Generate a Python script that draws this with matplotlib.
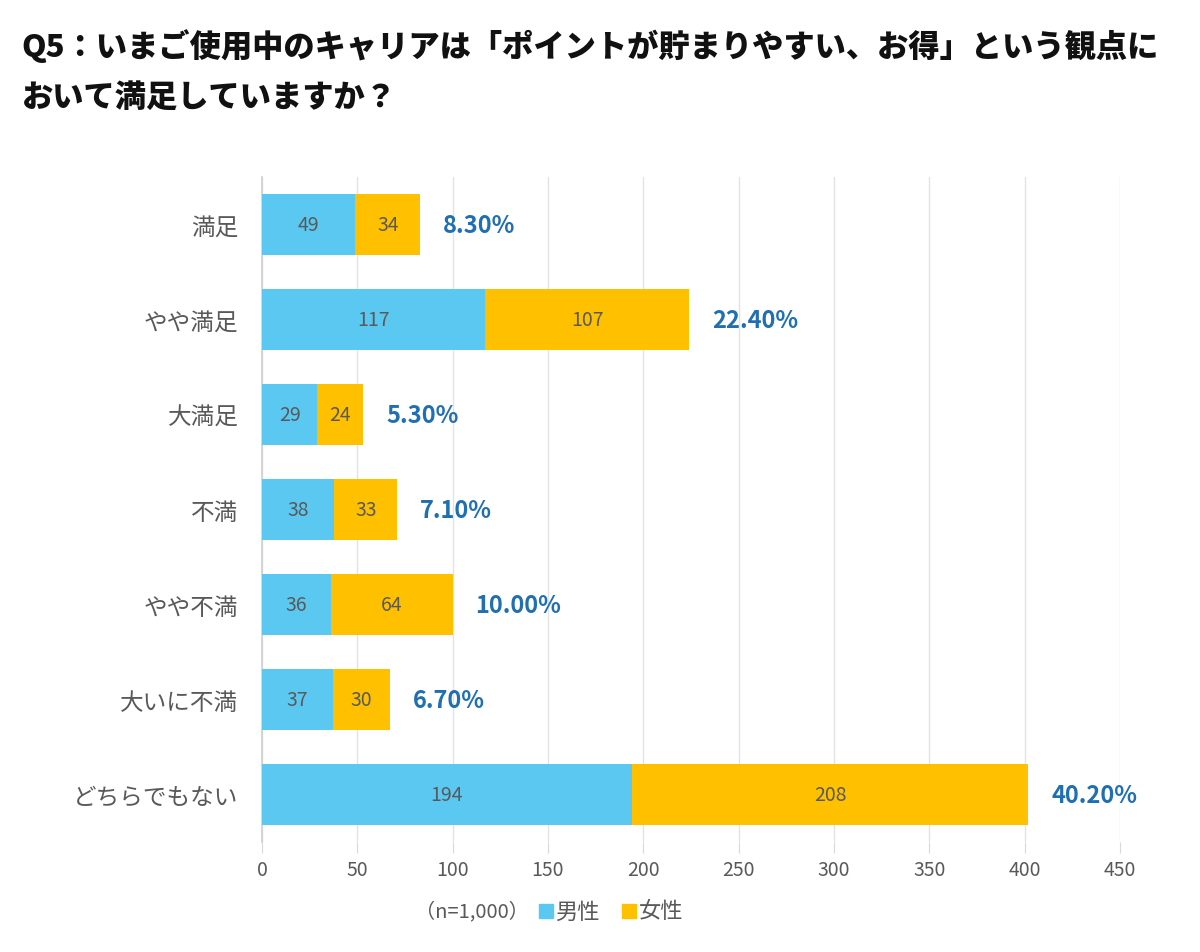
import matplotlib
matplotlib.use("Agg")
import matplotlib.pyplot as plt
from matplotlib.patches import Rectangle

plt.rcParams['font.family'] = ['Noto Sans CJK JP', 'DejaVu Sans']

categories = ["満足", "やや満足", "大満足", "不満", "やや不満", "大いに不満", "どちらでもない"]
male = [49, 117, 29, 38, 36, 37, 194]
female = [34, 107, 24, 33, 64, 30, 208]
percents = ["8.30%", "22.40%", "5.30%", "7.10%", "10.00%", "6.70%", "40.20%"]
xticks = [0, 50, 100, 150, 200, 250, 300, 350, 400, 450]
title = "Q5：いまご使用中のキャリアは「ポイントが貯まりやすい、お得」という観点に\nおいて満足していますか？"

c_male = "#5BC8F2"
c_female = "#FFC000"
c_pct = "#1F6FB2"
c_txt = "#595959"

fig = plt.figure(figsize=(12, 9.53), dpi=100)
ax = fig.add_axes([0.2183, 0.1154, 0.715, 0.6978])

y = list(range(len(categories)))
h = 0.65
ax.barh(y, male, height=h, color=c_male, zorder=3)
ax.barh(y, female, left=male, height=h, color=c_female, zorder=3)

for i in y:
    ax.text(male[i] / 2, i, str(male[i]), ha="center", va="center", fontsize=14, color=c_txt, zorder=4)
    ax.text(male[i] + female[i] / 2, i, str(female[i]), ha="center", va="center", fontsize=14, color=c_txt, zorder=4)
    ax.text(male[i] + female[i] + 12, i, percents[i], ha="left", va="center", fontsize=17,
            fontweight="bold", color=c_pct, zorder=4)

ax.set_xlim(0, 450)
ax.set_ylim(len(categories) - 0.5, -0.5)
ax.set_xticks(xticks)
ax.set_xticklabels([str(t) for t in xticks], fontsize=14, color=c_txt)
ax.set_yticks(y)
ax.set_yticklabels(categories, fontsize=17, color=c_txt)
ax.tick_params(axis="y", length=0, pad=17)
ax.tick_params(axis="x", length=8, color="#d9d9d9", pad=4)
ax.grid(axis="x", color="#e3e3e3", linewidth=1, zorder=0)
for s in ["top", "right", "bottom"]:
    ax.spines[s].set_visible(False)
ax.spines["left"].set_color("#cfcfcf")
ax.spines["left"].set_linewidth(1.2)

fig.text(0.018, 0.969, title, ha="left", va="top", fontsize=22.5, fontweight="black",
         color="#111111", linespacing=1.75)

# legend
ly = 1 - 912 / 953
fig.text(0.346, ly, "（n=1,000）", ha="left", va="center", fontsize=14.5, color=c_txt)
sq_w = 14 / 1200
sq_h = 14 / 953
fig.patches.append(Rectangle((0.4492, ly - sq_h / 2), sq_w, sq_h, transform=fig.transFigure,
                             color=c_male, figure=fig))
fig.text(0.4625, ly, "男性", ha="left", va="center", fontsize=16, color=c_txt)
fig.patches.append(Rectangle((0.5183, ly - sq_h / 2), sq_w, sq_h, transform=fig.transFigure,
                             color=c_female, figure=fig))
fig.text(0.5325, ly, "女性", ha="left", va="center", fontsize=16, color=c_txt)

fig.savefig("out.png", dpi=100, facecolor="white")
